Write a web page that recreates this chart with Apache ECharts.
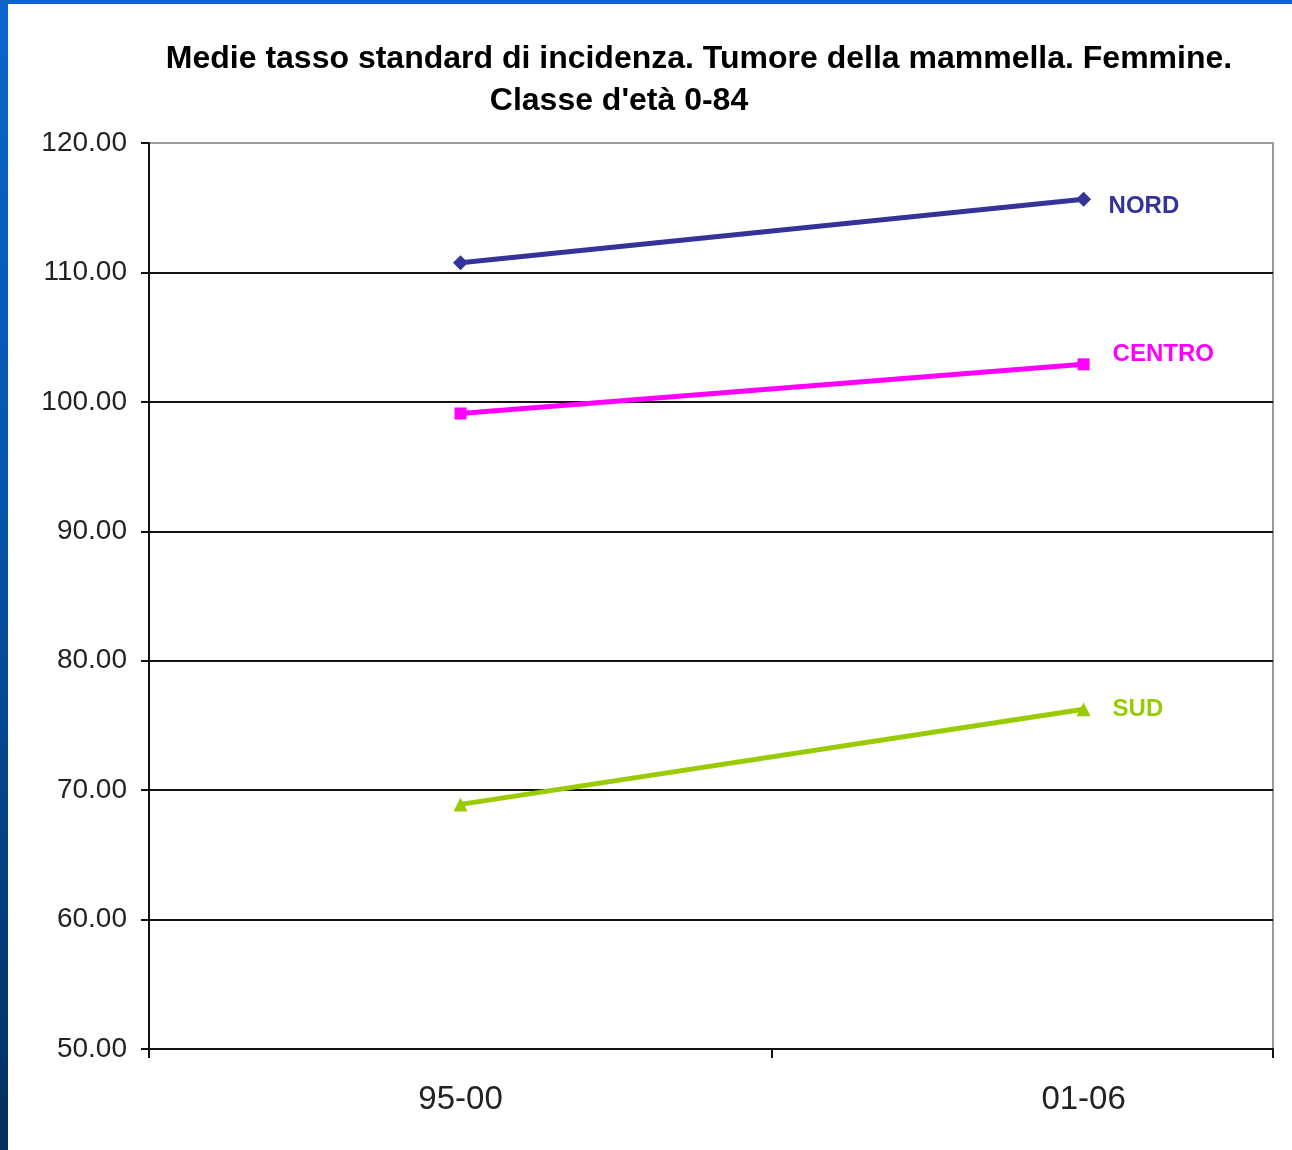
<!DOCTYPE html>
<html>
<head>
<meta charset="utf-8">
<title>Medie tasso standard di incidenza</title>
<script src="https://cdn.jsdelivr.net/npm/echarts@6/dist/echarts.min.js"></script>
<style>
  html, body { margin: 0; padding: 0; width: 1292px; height: 1150px; overflow: hidden; }
  body { background: linear-gradient(to bottom, #0a66cc 0%, #0656b0 40%, #02305f 100%); position: relative; }
  #chart { position: absolute; left: 8px; top: 4px; width: 1284px; height: 1146px; background: #ffffff; }
</style>
</head>
<body>
<div id="chart"></div>
<script>
// Periods on the horizontal axis
const periods = ['95-00', '01-06'];
// Mean standardised incidence rates per area
const nord = [110.75, 115.65];
const centro = [99.1, 102.9];
const sud = [68.9, 76.25];
// Vertical axis ticks
const yMin = 50;
const yMax = 120;
const yStep = 10;

// Each period occupies one unit of the x scale; its point sits mid-band.
const xEnd = 1.804;
const toPoints = vals => vals.map((v, i) => [i + 0.5, v]);

const labelFont = 'Liberation Sans, Arial, sans-serif';

function areaSeries(name, vals, color, symbol, symbolSize, offset) {
  return {
    name: name,
    type: 'line',
    data: toPoints(vals),
    symbol: symbol,
    symbolSize: symbolSize,
    showAllSymbol: true,
    lineStyle: { color: color, width: 5 },
    itemStyle: { color: color },
    emphasis: { disabled: true },
    endLabel: {
      show: true,
      formatter: '{a}',
      color: color,
      fontFamily: labelFont,
      fontWeight: 'bold',
      fontSize: 24,
      distance: 0,
      offset: offset
    }
  };
}

const chart = echarts.init(document.getElementById('chart'), null, { renderer: 'canvas' });

chart.setOption({
  animation: false,
  backgroundColor: '#ffffff',
  title: [
    {
      text: 'Medie tasso standard di incidenza. Tumore della mammella. Femmine.',
      left: 686,
      top: 34,
      textAlign: 'center',
      textStyle: { fontFamily: labelFont, fontWeight: 'bold', fontSize: 32, color: '#000' }
    },
    {
      text: "Classe d'età 0-84",
      left: 606,
      top: 76,
      textAlign: 'center',
      textStyle: { fontFamily: labelFont, fontWeight: 'bold', fontSize: 32, color: '#000' }
    }
  ],
  grid: {
    left: 141,
    top: 139,
    right: 19,
    bottom: 101,
    show: true,
    borderColor: '#9a9a9a',
    borderWidth: 2,
    backgroundColor: 'transparent'
  },
  xAxis: {
    type: 'value',
    min: 0,
    max: xEnd,
    axisLine: { show: true, onZero: false, lineStyle: { color: '#111', width: 2 } },
    axisTick: {
      show: true,
      inside: false,
      length: 9,
      customValues: [0, 1, xEnd],
      lineStyle: { color: '#111', width: 2 }
    },
    axisLabel: {
      customValues: periods.map((p, i) => i + 0.5),
      formatter: v => periods[Math.round(v - 0.5)],
      margin: 34,
      color: '#222',
      fontFamily: labelFont,
      fontSize: 33
    },
    splitLine: { show: false }
  },
  yAxis: {
    type: 'value',
    min: yMin,
    max: yMax,
    interval: yStep,
    axisLine: { show: true, lineStyle: { color: '#111', width: 2 } },
    axisTick: { show: true, length: 8, lineStyle: { color: '#111', width: 2 } },
    axisLabel: {
      formatter: v => v.toFixed(2),
      margin: 22,
      color: '#222',
      fontFamily: labelFont,
      fontSize: 28
    },
    splitLine: {
      show: true,
      lineStyle: {
        color: ['#111', '#111', '#111', '#111', '#111', '#111', '#111', '#9a9a9a'],
        width: 2
      }
    }
  },
  series: [
    areaSeries('NORD', nord, '#333399', 'diamond', 15, [25, 7]),
    areaSeries('CENTRO', centro, '#ff00ff', 'rect', 12, [29, -10]),
    areaSeries('SUD', sud, '#99cc00', 'triangle', 14, [29, 0])
  ]
});
</script>
</body>
</html>
